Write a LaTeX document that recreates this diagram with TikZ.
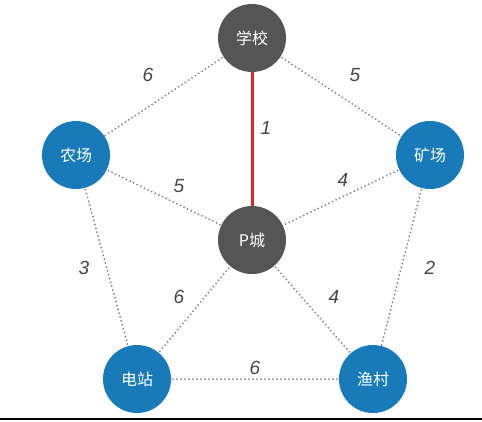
\documentclass[tikz,border=0pt]{standalone}
\usepackage{fontspec}
\setmainfont{Liberation Sans}
\newfontfamily\cjk{Noto Sans CJK SC}
\usepackage{tikz}
\definecolor{townfill}{RGB}{85,85,85}
\definecolor{sitefill}{RGB}{24,122,184}
\definecolor{roadred}{RGB}{218,38,38}
\definecolor{roadgray}{RGB}{130,130,130}
\definecolor{labelgray}{RGB}{70,70,70}

\begin{document}
\begin{tikzpicture}[x=1pt,y=-1pt]
    \tikzstyle{town}=[circle, fill=townfill, text=white, minimum size=68pt, inner sep=0pt, font=\fontsize{16}{16}\selectfont\cjk]
    \tikzstyle{site}=[circle, fill=sitefill, text=white, minimum size=68pt, inner sep=0pt, font=\fontsize{16}{16}\selectfont\cjk]
    \tikzstyle{road}=[draw=roadgray, line width=2pt, line cap=round, dash pattern=on 0pt off 4pt]
    \tikzstyle{cost}=[text=labelgray, font=\fontsize{19}{19}\selectfont\itshape]

    \useasboundingbox (0,0) rectangle (482,421);
    \fill[white] (0,0) rectangle (482,421);

    % roads first, nodes on top
    \coordinate (s) at (252,38);
    \coordinate (p) at (252,240);
    \coordinate (f) at (76,155);
    \coordinate (m) at (430,155);
    \coordinate (e) at (137,379);
    \coordinate (v) at (373,379);

    \foreach \a/\b in {s/f,s/m,f/p,m/p,f/e,m/v,e/p,v/p,e/v}
      {\draw[road] (\a) -- (\b);}
    \draw[roadred, line width=3pt] (s) -- (p);

    \node[town] (school) at (s) {学校};
    \node[town] (city) at (p) {P城};
    \node[site] (farm) at (f) {农场};
    \node[site] (mine) at (m) {矿场};
    \node[site] (plant) at (e) {电站};
    \node[site] (village) at (v) {渔村};

    \foreach \x/\y/\c [count=\i] in {148/75/6,355/75/5,266/128/1,179/186/5,343/180/4,84/268/3,430/268/2,179/297/6,334/297/4,255/368/6}
      {\node[cost] (cost\i) at (\x,\y) {\c};}

    \draw[black, line width=2pt] (0,419) -- (482,419);
  \end{tikzpicture}
\end{document}
